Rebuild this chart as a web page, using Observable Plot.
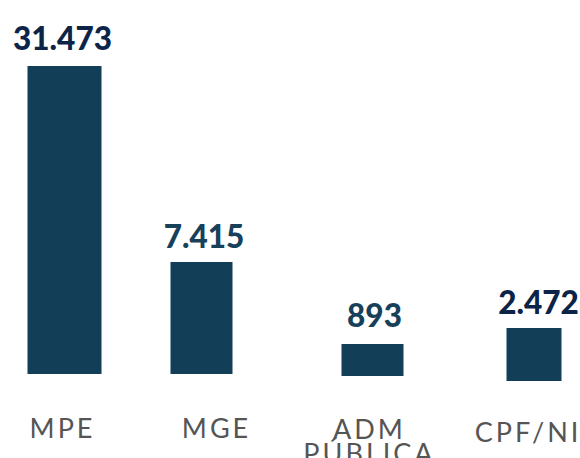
<!DOCTYPE html>
<html>
<head>
<meta charset="utf-8">
<script src="https://cdn.jsdelivr.net/npm/d3@7"></script>
<script src="https://cdn.jsdelivr.net/npm/@observablehq/plot@0.6"></script>
<style>
  html, body { margin: 0; padding: 0; background: #fff; }
  #chart { width: 580px; height: 458px; overflow: hidden; }
  [aria-label="category"], [aria-label="category"] text { letter-spacing: 3px; }
</style>
</head>
<body>
<div id="chart"></div>
<script>
// Data
const categories = ["MPE", "MGE", "ADM\nPÚBLICA", "CPF/NI"];
const values = [31473, 7415, 893, 2472];

// Layout / style per bar (not data)
const barColor = "#123f57";
const labelColors = ["#0b2447", "#17405a", "#17405a", "#0b2447"];
const barWidths = [74, 62, 62, 55];
const barDy = [0, 0, 2, 7];
const valueDy = [-17, -15, -16, -8];
const valueDx = [-2, 2.5, 2, 4.5];
const catDx = [-2, 15, -3, -6];
const catDy = [46, 46, 47, 50];

const fmt = d3.formatLocale({decimal: ",", thousands: ".", grouping: [3], currency: ["R$", ""]}).format(",d");
const rows = categories.map((c, i) => ({category: c, value: values[i], idx: i}));

const marks = [];
rows.forEach((r, i) => {
  marks.push(Plot.ruleX([r], {
    x: "idx", y1: 0, y2: "value",
    stroke: barColor, strokeWidth: barWidths[i], dy: barDy[i]
  }));
  marks.push(Plot.text([r], {
    x: "idx", y: "value", text: d => fmt(d.value),
    fill: labelColors[i], fontSize: 31.5, fontWeight: 900,
    fontFamily: "Lato", lineAnchor: "bottom",
    dx: valueDx[i], dy: valueDy[i]
  }));
  marks.push(Plot.text([r], {
    x: "idx", y: () => 0, text: "category",
    fill: "#555555", fontSize: 27, fontWeight: 400,
    fontFamily: "Lato", lineAnchor: "top", lineHeight: 0.9,
    dx: catDx[i], dy: catDy[i], ariaLabel: () => "category"
  }));
});

const chart = Plot.plot({
  width: 580,
  height: 458,
  margin: 0,
  style: {background: "#fff", overflow: "hidden"},
  x: {type: "linear", domain: [0, 1, 2, 3], range: [64, 201, 372, 533.5], axis: null},
  y: {type: "linear", domain: [0, ...values.slice().sort((a, b) => a - b)], range: [374, 342, 321, 262, 66], axis: null},
  marks
});
document.getElementById("chart").appendChild(chart);
</script>
</body>
</html>
